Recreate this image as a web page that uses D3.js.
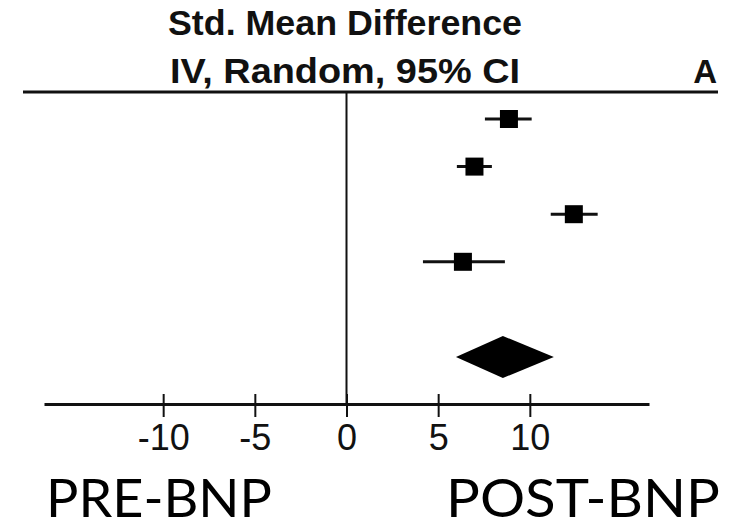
<!DOCTYPE html>
<html>
<head>
<meta charset="utf-8">
<script src="https://cdn.jsdelivr.net/npm/d3@7"></script>
<style>
  html, body { margin: 0; padding: 0; background: #fff; }
  svg { display: block; }
</style>
</head>
<body>
<svg id="chart" width="730" height="529"></svg>
<script>
// ---- Data ----
const studies = ["Study 1", "Study 2", "Study 3", "Study 4"];
const estimates = [8.86, 6.98, 12.4, 6.35];
const lowerCI = [7.55, 6.02, 11.14, 4.17];
const upperCI = [10.1, 7.93, 13.7, 8.64];
const pooled = { est: 8.53, lo: 5.97, hi: 11.31 };
const rows = ["Study 1", "Study 2", "Study 3", "Study 4", "", "Overall"];
const tickValues = [-10, -5, 0, 5, 10];
const titleLines = ["Std. Mean Difference", "IV, Random, 95% CI"];
const panelLabel = "A";
const favoursLeft = "PRE-BNP";
const favoursRight = "POST-BNP";

// ---- Scales ----
const svg = d3.select("#chart");
const x = d3.scaleLinear().domain([-16.5, 16.5]).range([44, 649]);
const y = d3.scalePoint().domain(rows).range([119, 357]);
const axisY = 404;
const topY = 92;
const ink = "#111";

// ---- Header ----
svg.append("text").attr("x", 345).attr("y", 35).attr("text-anchor", "middle")
  .attr("font-family", "Liberation Sans, Arial, sans-serif").attr("font-weight", "bold")
  .attr("font-size", 35).attr("textLength", 354).attr("lengthAdjust", "spacingAndGlyphs")
  .attr("fill", ink).text(titleLines[0]);
svg.append("text").attr("x", 345).attr("y", 83).attr("text-anchor", "middle")
  .attr("font-family", "Liberation Sans, Arial, sans-serif").attr("font-weight", "bold")
  .attr("font-size", 35).attr("textLength", 350).attr("lengthAdjust", "spacingAndGlyphs")
  .attr("fill", ink).text(titleLines[1]);
svg.append("text").attr("x", 717).attr("y", 83).attr("text-anchor", "end")
  .attr("font-family", "Liberation Sans, Arial, sans-serif").attr("font-weight", "bold")
  .attr("font-size", 33).attr("fill", ink).text(panelLabel);

// top rule
svg.append("line").attr("x1", 23).attr("x2", 718).attr("y1", topY).attr("y2", topY)
  .attr("stroke", ink).attr("stroke-width", 3);

// zero line
svg.append("line").attr("x1", x(0)).attr("x2", x(0)).attr("y1", topY).attr("y2", axisY)
  .attr("stroke", ink).attr("stroke-width", 2);

// ---- Study rows ----
const data = studies.map((s, i) => ({ s, est: estimates[i], lo: lowerCI[i], hi: upperCI[i] }));
const g = svg.append("g");
g.selectAll("line.ci").data(data).join("line").attr("class", "ci")
  .attr("x1", d => x(d.lo)).attr("x2", d => x(d.hi))
  .attr("y1", d => y(d.s)).attr("y2", d => y(d.s))
  .attr("stroke", ink).attr("stroke-width", 3);
const sq = 18;
g.selectAll("rect.pt").data(data).join("rect").attr("class", "pt")
  .attr("x", d => x(d.est) - sq / 2).attr("y", d => y(d.s) - sq / 2)
  .attr("width", sq).attr("height", sq).attr("fill", "#000");

// pooled diamond
const dy = y("Overall");
const halfH = 21;
svg.append("path")
  .attr("d", `M${x(pooled.lo)},${dy} L${x(pooled.est)},${dy - halfH} L${x(pooled.hi)},${dy} L${x(pooled.est)},${dy + halfH} Z`)
  .attr("fill", "#000");

// ---- Axis ----
const axis = d3.axisBottom(x).tickValues(tickValues).tickSize(13).tickSizeOuter(0)
  .tickFormat(d3.format("d"));
const ag = svg.append("g").attr("transform", `translate(0,${axisY})`).call(axis);
ag.select(".domain").attr("stroke", ink).attr("stroke-width", 3);
ag.selectAll(".tick line").attr("y1", -10).attr("y2", 13).attr("stroke", ink).attr("stroke-width", 2);
ag.selectAll(".tick text").attr("y", 46).attr("dy", 0)
  .attr("font-family", "Liberation Sans, Arial, sans-serif").attr("font-size", 36)
  .attr("fill", ink).text(d => d < 0 ? "-" + Math.abs(d) : d);

// ---- Favours labels ----
svg.append("text").attr("x", 46).attr("y", 517)
  .attr("font-family", "Lato, Open Sans, sans-serif").attr("font-size", 52)
  .attr("textLength", 226).attr("lengthAdjust", "spacingAndGlyphs")
  .attr("fill", "#000").text(favoursLeft);
svg.append("text").attr("x", 446).attr("y", 517)
  .attr("font-family", "Lato, Open Sans, sans-serif").attr("font-size", 52)
  .attr("textLength", 274).attr("lengthAdjust", "spacingAndGlyphs")
  .attr("fill", "#000").text(favoursRight);
</script>
</body>
</html>
